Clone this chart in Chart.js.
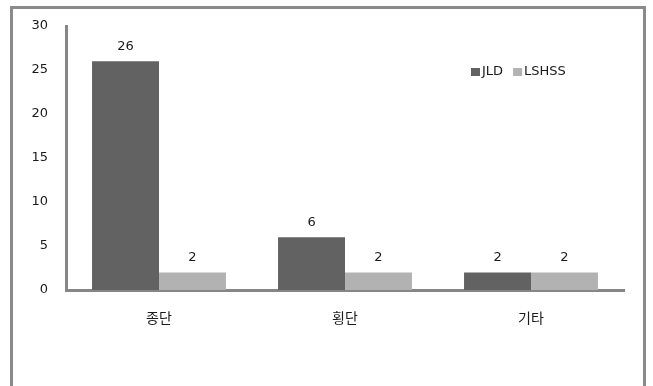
<!DOCTYPE html>
<html>
<head>
<meta charset="utf-8">
<script src="https://cdn.jsdelivr.net/npm/chart.js@4"></script>
<style>
html,body{margin:0;padding:0;background:#fff;}
#wrap{width:653px;height:386px;position:relative;}
</style>
</head>
<body>
<div id="wrap"><canvas id="c" width="653" height="386"></canvas></div>
<script>
const categories = ['종단', '횡단', '기타'];
const jldValues = [26, 6, 2];
const lshssValues = [2, 2, 2];
const seriesNames = ['JLD', 'LSHSS'];
const yTicks = [0, 5, 10, 15, 20, 25, 30];

const FONT = "'DejaVu Sans', 'Noto Sans CJK KR', sans-serif";

const framePlugin = {
  id: 'frame',
  beforeDraw(chart) {
    const ctx = chart.ctx;
    ctx.save();
    ctx.strokeStyle = '#8a8a8a';
    ctx.lineWidth = 3;
    ctx.beginPath();
    ctx.moveTo(11.5, 420);
    ctx.lineTo(11.5, 7.5);
    ctx.lineTo(644.5, 7.5);
    ctx.lineTo(644.5, 420);
    ctx.stroke();
    ctx.restore();
  }
};

const valueLabels = {
  id: 'valueLabels',
  afterDatasetsDraw(chart) {
    const ctx = chart.ctx;
    ctx.save();
    ctx.font = '13px ' + FONT;
    ctx.fillStyle = '#1a1a1a';
    ctx.textAlign = 'center';
    ctx.textBaseline = 'middle';
    chart.data.datasets.forEach((ds, i) => {
      const meta = chart.getDatasetMeta(i);
      meta.data.forEach((el, j) => {
        ctx.fillText(String(ds.data[j]), el.x, el.y - 15);
      });
    });
    ctx.restore();
  }
};

const customLegend = {
  id: 'customLegend',
  afterDraw(chart) {
    const ctx = chart.ctx;
    ctx.save();
    ctx.font = '13px ' + FONT;
    ctx.textBaseline = 'middle';
    ctx.textAlign = 'left';
    let x = 471;
    const y = 72;
    chart.data.datasets.forEach((ds) => {
      ctx.fillStyle = ds.backgroundColor;
      ctx.fillRect(x, y - 4, 9, 8);
      ctx.fillStyle = '#1a1a1a';
      ctx.fillText(ds.label, x + 11, y);
      x += 11 + ctx.measureText(ds.label).width + 10;
    });
    ctx.restore();
  }
};

new Chart(document.getElementById('c'), {
  type: 'bar',
  data: {
    labels: categories,
    datasets: [
      { label: seriesNames[0], data: jldValues, backgroundColor: '#626262', categoryPercentage: 0.72, barPercentage: 1 },
      { label: seriesNames[1], data: lshssValues, backgroundColor: '#b2b2b2', categoryPercentage: 0.72, barPercentage: 1 }
    ]
  },
  options: {
    responsive: false,
    animation: false,
    events: [],
    layout: { padding: { left: 0, right: 29, top: 26, bottom: 0 } },
    plugins: {
      legend: { display: false },
      tooltip: { enabled: false }
    },
    scales: {
      x: {
        grid: { display: false },
        border: { display: true, color: '#868686', width: 3 },
        ticks: { color: '#1a1a1a', font: { size: 14, family: FONT }, padding: 13 },
        afterFit(scale) { scale.height = 96; }
      },
      y: {
        min: 0, max: 30,
        grid: { display: false },
        border: { display: true, color: '#868686', width: 3 },
        afterBuildTicks(scale) { scale.ticks = yTicks.map(v => ({ value: v })); },
        ticks: { color: '#1a1a1a', font: { size: 13, family: FONT }, padding: 10 },
        afterFit(scale) { scale.width = 66; }
      }
    }
  },
  plugins: [framePlugin, valueLabels, customLegend]
});
</script>
</body>
</html>
